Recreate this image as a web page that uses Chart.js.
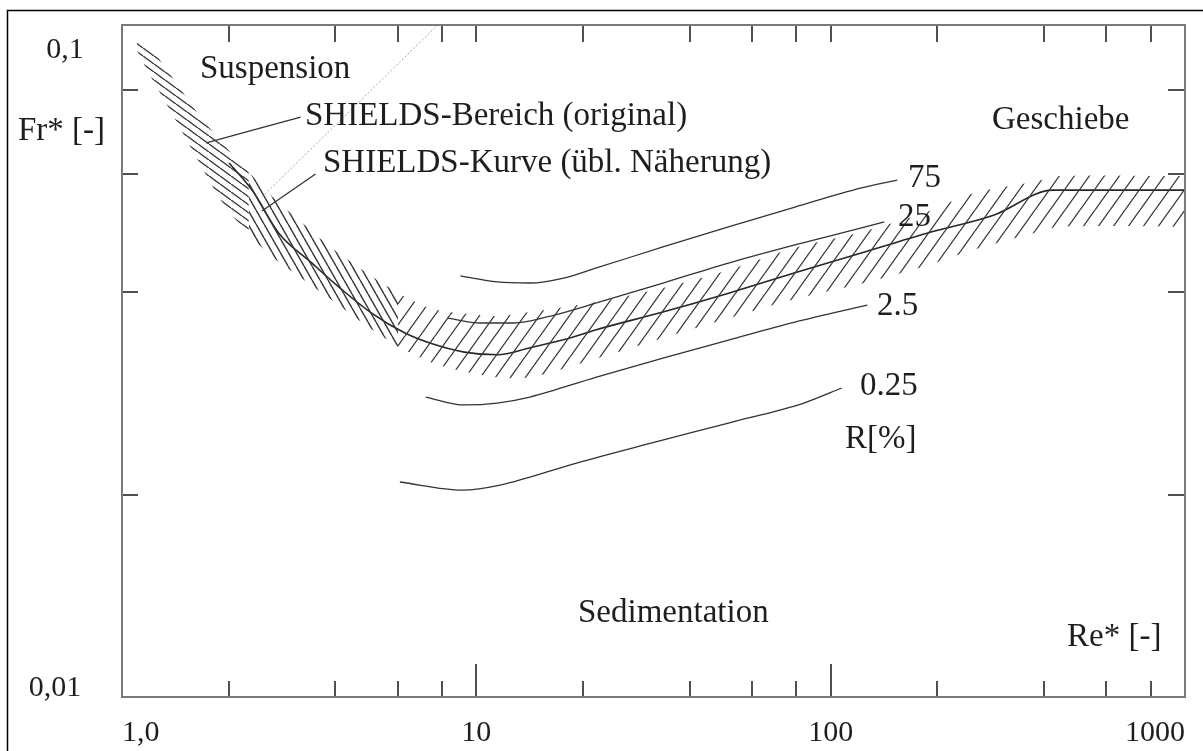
<!DOCTYPE html>
<html><head><meta charset="utf-8">
<script src="https://cdn.jsdelivr.net/npm/chart.js@4"></script>
<style>html,body{margin:0;padding:0;background:#fff;}canvas{display:block;}</style>
</head><body>
<canvas id="c" width="1203" height="751"></canvas>
<script>
// ---- axis ticks / labels ----
const xMajor = [1, 10, 100, 1000];
const xLabels = ['1,0', '10', '100', '1000'];
const xMinor = [2, 4, 6, 8, 20, 40, 60, 80, 200, 400, 600, 800];
const yMinor = [0.02, 0.04, 0.06, 0.08];
const yLabelValues = [0.1, 0.01];
const yLabels = ['0,1', '0,01'];

// ---- SHIELDS curve (usual approximation) ----
const shieldsX = [2.006, 2.328, 2.77, 3.43, 4.08, 5.05, 6.29, 7.43, 9.25, 11.45, 14.2, 17.6, 21.8, 33.6, 51.5, 79.3, 122, 187, 288, 424, 1000];
const shieldsY = [0.0623, 0.0568, 0.0490, 0.04425, 0.0408, 0.0373, 0.0348, 0.0336, 0.0326, 0.0323, 0.0331, 0.0340, 0.0352, 0.0374, 0.0399, 0.0428, 0.0458, 0.0490, 0.0521, 0.0568, 0.0568];

// ---- SHIELDS band (original), upper and lower edges ----
const bandX     = [1.10, 1.20, 1.39, 1.65, 1.94, 2.28, 2.68, 3.15, 3.90, 4.86, 6.01, 7.43, 9.26, 11.45, 14.2, 21.8, 33.6, 51.5, 79.3, 122, 183, 253, 373, 444, 1000];
const bandUpper = [0.0950, 0.0924, 0.0834, 0.0735, 0.0663, 0.0604, 0.0553, 0.0513, 0.0466, 0.0429, 0.0399, 0.0379, 0.0372, 0.0369, 0.0374, 0.0387, 0.0406, 0.0432, 0.0466, 0.0492, 0.0525, 0.0562, 0.0584, 0.0596, 0.0596];
const bandLower = [0.0918, 0.0842, 0.0735, 0.0625, 0.0540, 0.0487, 0.0450, 0.0423, 0.0390, 0.0358, 0.0332, 0.0315, 0.0305, 0.0299, 0.0299, 0.0319, 0.0342, 0.0366, 0.0391, 0.0412, 0.0437, 0.0463, 0.0490, 0.0501, 0.0501];
const bandSplitA = 5;  // end of upper-left hatch section
const bandSplitB = 10; // end of middle-left hatch section

// ---- R[%] curves ----
const r75X = [9.02, 11.45, 14.17, 17.64, 21.83, 33.62, 51.46, 79.30, 122.2, 154.1];
const r75Y = [0.04232, 0.04146, 0.04131, 0.04202, 0.04350, 0.04674, 0.05007, 0.05359, 0.05722, 0.05879];
const r25X = [8.294, 10.26, 12.78, 15.81, 21.83, 33.62, 51.46, 79.30, 122.2, 141.7];
const r25Y = [0.03664, 0.03602, 0.03602, 0.03677, 0.03858, 0.04131, 0.04424, 0.04708, 0.04990, 0.05093];
const r2p5X = [7.197, 9.256, 11.45, 14.17, 21.83, 33.62, 51.46, 79.30, 126.9];
const r2p5Y = [0.02795, 0.02720, 0.02738, 0.02795, 0.02993, 0.03194, 0.03398, 0.03614, 0.03831];
const r0p25X = [6.085, 9.139, 11.67, 19.18, 31.32, 51.46, 84.03, 107.4];
const r0p25Y = [0.02089, 0.02032, 0.02067, 0.02229, 0.02388, 0.02557, 0.02738, 0.02883];

// ---- leader lines & dotted line ----
const leaderBereichX = [1.730, 3.193];
const leaderBereichY = [0.06675, 0.07295];
const leaderKurveX = [2.483, 3.517];
const leaderKurveY = [0.05286, 0.06003];
const dottedX = [2.483, 7.778];
const dottedY = [0.05546, 0.1];

// ---- text labels ----
const annotations = [
  ['Suspension', 200, 69],
  ['SHIELDS-Bereich (original)', 305, 116],
  ['SHIELDS-Kurve (übl. Näherung)', 323, 163],
  ['Geschiebe', 992, 120],
  ['75', 908, 178],
  ['25', 898, 217],
  ['2.5', 877, 306],
  ['0.25', 860, 386],
  ['R[%]', 845, 439],
  ['Sedimentation', 578, 613],
  ['Re* [-]', 1067, 637],
  ['Fr* [-]', 18, 131]
];

const zip = (xs, ys) => xs.map((v, i) => ({x: v, y: ys[i]}));

const canvas = document.getElementById('c');
const mainCtx = canvas.getContext('2d');
function makeHatch(w, h, dir, lw) {
  const c = document.createElement('canvas');
  c.width = w; c.height = h;
  const g = c.getContext('2d');
  g.strokeStyle = '#383838';
  g.lineWidth = lw;
  g.beginPath();
  for (let k = -1; k <= 1; k++) {
    if (dir === 'back') { g.moveTo(k * w, 0); g.lineTo(k * w + w, h); }
    else { g.moveTo(k * w, h); g.lineTo(k * w + w, 0); }
  }
  g.stroke();
  return mainCtx.createPattern(c, 'repeat');
}
const hatchTop = makeHatch(11, 8, 'back', 1.4);
const hatchMid = makeHatch(8, 14, 'back', 1.4);
const hatchFwd = makeHatch(15, 21, 'fwd', 1.3);

const lineDs = (data, color, width, extra) => Object.assign({
  data, borderColor: color, borderWidth: width, pointRadius: 0, fill: false,
  cubicInterpolationMode: 'monotone'
}, extra || {});

function bandPair(i0, i1, pattern) {
  const opts = {tension: 0.3, cubicInterpolationMode: 'default'};
  return [
    lineDs(zip(bandX.slice(i0, i1 + 1), bandUpper.slice(i0, i1 + 1)), 'rgba(0,0,0,0)', 0, opts),
    lineDs(zip(bandX.slice(i0, i1 + 1), bandLower.slice(i0, i1 + 1)), 'rgba(0,0,0,0)', 0,
      Object.assign({fill: '-1', backgroundColor: pattern}, opts))
  ];
}

const datasets = [
  ...bandPair(0, bandSplitA, hatchTop),
  ...bandPair(bandSplitA, bandSplitB, hatchMid),
  ...bandPair(bandSplitB, bandX.length - 1, hatchFwd),
  lineDs(zip(shieldsX, shieldsY), '#262626', 1.6),
  lineDs(zip(r75X, r75Y), '#333', 1.3),
  lineDs(zip(r25X, r25Y), '#333', 1.3),
  lineDs(zip(r2p5X, r2p5Y), '#333', 1.3),
  lineDs(zip(r0p25X, r0p25Y), '#333', 1.3),
  lineDs(zip(leaderBereichX, leaderBereichY), '#333', 1.3),
  lineDs(zip(leaderKurveX, leaderKurveY), '#333', 1.3),
  lineDs(zip(dottedX, dottedY), '#a8a8a8', 1, {borderDash: [2, 2]})
];

const decor = {
  id: 'decor',
  beforeDraw(chart) {
    const ctx = chart.ctx;
    ctx.save();
    ctx.fillStyle = '#fff';
    ctx.fillRect(0, 0, chart.width, chart.height);
    ctx.strokeStyle = '#000';
    ctx.lineWidth = 1.5;
    ctx.beginPath();
    ctx.moveTo(7.5, chart.height);
    ctx.lineTo(7.5, 10.5);
    ctx.lineTo(chart.width, 10.5);
    ctx.stroke();
    ctx.restore();
  },
  afterDatasetsDraw(chart) {
    const {ctx, chartArea: a, scales: {x, y}} = chart;
    ctx.save();
    ctx.strokeStyle = '#505050';
    ctx.lineWidth = 2;
    ctx.beginPath();
    xMinor.concat(xMajor.slice(1, -1)).forEach(v => {
      const px = Math.round(x.getPixelForValue(v));
      const len = xMajor.includes(v) ? 33 : 16;
      ctx.moveTo(px, a.bottom); ctx.lineTo(px, a.bottom - len);
      ctx.moveTo(px, a.top); ctx.lineTo(px, a.top + 17);
    });
    yMinor.forEach(v => {
      const py = Math.round(y.getPixelForValue(v));
      ctx.moveTo(a.left, py); ctx.lineTo(a.left + 16, py);
      ctx.moveTo(a.right, py); ctx.lineTo(a.right - 17, py);
    });
    ctx.stroke();
    ctx.strokeStyle = '#7a7a7a';
    ctx.lineWidth = 2;
    ctx.strokeRect(a.left, a.top, a.right - a.left, a.bottom - a.top);

    ctx.fillStyle = '#1e1e1e';
    ctx.textBaseline = 'middle';
    ctx.font = '30px "Liberation Serif", "Times New Roman", serif';
    ctx.textAlign = 'center';
    ctx.fillText(yLabels[0], 65, y.getPixelForValue(yLabelValues[0]) + 25);
    ctx.fillText(yLabels[1], 55, y.getPixelForValue(yLabelValues[1]) - 9);
    ctx.font = '33px "Liberation Serif", "Times New Roman", serif';
    ctx.textAlign = 'left';
    annotations.forEach(([t, px, py]) => ctx.fillText(t, px, py));
    ctx.restore();
  }
};

new Chart(canvas, {
  type: 'line',
  data: {datasets},
  options: {
    responsive: false,
    animation: false,
    devicePixelRatio: 1,
    layout: {padding: {left: 122, right: 10, top: 25, bottom: 0}},
    plugins: {legend: {display: false}, tooltip: {enabled: false}},
    elements: {point: {radius: 0}},
    scales: {
      x: {
        type: 'logarithmic', min: 1, max: 1000, position: 'bottom',
        afterBuildTicks: s => { s.ticks = xMajor.map(v => ({value: v})); },
        afterFit: s => { s.height = 54; },
        grid: {display: false, drawTicks: false},
        border: {display: false},
        ticks: {
          align: 'inner', autoSkip: false, maxRotation: 0, minRotation: 0, padding: 18,
          color: '#1e1e1e',
          font: {family: '"Liberation Serif", "Times New Roman", serif', size: 30, lineHeight: 1.2},
          callback: (v, i) => xLabels[i]
        }
      },
      y: {type: 'logarithmic', min: 0.01, max: 0.1, display: false}
    }
  },
  plugins: [decor]
});
</script>
</body></html>
